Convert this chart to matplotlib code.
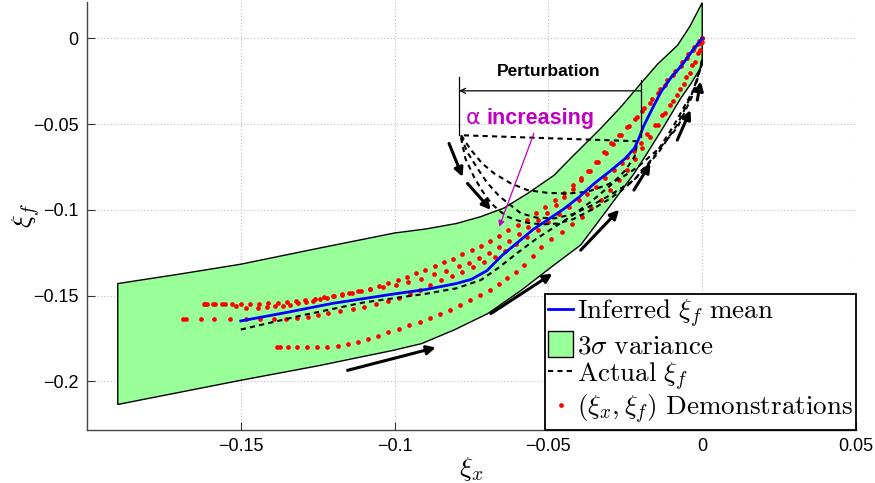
import numpy as np
import matplotlib
matplotlib.use("Agg")
import matplotlib.pyplot as plt
from matplotlib.lines import Line2D
from matplotlib.patches import Patch

# ---------------- data ----------------
band_upper_x = [-0.19, -0.17, -0.15, -0.125, -0.10, -0.09, -0.0800, -0.0720, -0.0645, -0.0568, -0.0482,
                -0.0428, -0.033, -0.0265, -0.020, -0.0146, -0.008, -0.004, 0.0]
band_upper_y = [-0.143, -0.1375, -0.1317, -0.1225, -0.1135, -0.1112, -0.1080, -0.1040, -0.0990, -0.0905, -0.0799,
                -0.0700, -0.0525, -0.0401, -0.0264, -0.0152, -0.004, 0.007, 0.0208]
band_lower_x = [-0.19, -0.15, -0.125, -0.1006, -0.0912, -0.0806, -0.0697, -0.0588, -0.049, -0.0395,
                -0.0309, -0.0222, -0.0179, -0.0125, -0.007, -0.0035, 0.0]
band_lower_y = [-0.2135, -0.1994, -0.191, -0.182, -0.178, -0.170, -0.1605, -0.1469, -0.1333, -0.1205,
                -0.100, -0.079, -0.067, -0.0515, -0.035, -0.026, -0.0156]

mean_x = [-0.15, -0.135, -0.12, -0.10, -0.09, -0.08, -0.075, -0.07, -0.065, -0.06, -0.055, -0.05,
          -0.045, -0.04, -0.035, -0.03, -0.025, -0.022, -0.0205, -0.019, -0.0165, -0.0135, -0.01,
          -0.007, -0.0035, 0.0]
mean_y = [-0.1648, -0.1598, -0.1545, -0.149, -0.1465, -0.143, -0.1405, -0.1355, -0.1265, -0.119,
          -0.1115, -0.1055, -0.0995, -0.0925, -0.0845, -0.0775, -0.0700, -0.0640, -0.0580, -0.0510,
          -0.0420, -0.0315, -0.0225, -0.0165, -0.0080, 0.0]

actual_x = [-0.15, -0.13, -0.11, -0.09, -0.08, -0.072, -0.066, -0.06, -0.054, -0.048, -0.042,
            -0.036, -0.030, -0.025, -0.022, -0.021, -0.0784]
actual_y = [-0.1698, -0.1615, -0.1540, -0.1490, -0.1458, -0.1410, -0.1335, -0.1250, -0.1170,
            -0.1100, -0.1030, -0.0950, -0.0860, -0.0770, -0.0690, -0.0600, -0.0565]

ret1_x = [-0.0784, -0.0752, -0.0715, -0.0676, -0.0622, -0.0568, -0.0503, -0.0438, -0.0373, -0.031,
          -0.026, -0.021, -0.0135, -0.008, -0.0028, -0.0005, 0.0]
ret1_y = [-0.0565, -0.0650, -0.0730, -0.0788, -0.0846, -0.0885, -0.0901, -0.0905, -0.0895, -0.0855,
          -0.0810, -0.0751, -0.0634, -0.0518, -0.0320, -0.0167, -0.0120]
ret2_x = [-0.0784, -0.0765, -0.073, -0.070, -0.066, -0.0625, -0.059, -0.054, -0.048, -0.042, -0.036,
          -0.030, -0.0222, -0.0157, -0.0093, -0.0028, -0.0005, 0.0]
ret2_y = [-0.0570, -0.0660, -0.0760, -0.0840, -0.0920, -0.0970, -0.1020, -0.1045, -0.1050, -0.1025,
          -0.0975, -0.0915, -0.0827, -0.0690, -0.0510, -0.0300, -0.0167, -0.0120]
ret3_x = [-0.0784, -0.0770, -0.0742, -0.0715, -0.0687, -0.0660, -0.0632, -0.0600, -0.0567, -0.0520,
          -0.0470, -0.0420, -0.0360, -0.0300, -0.0250, -0.0200, -0.0140, -0.0080, -0.0030, -0.0005, 0.0]
ret3_y = [-0.0580, -0.0700, -0.0808, -0.0890, -0.0960, -0.1005, -0.1041, -0.1062, -0.1076, -0.1085,
          -0.1080, -0.1055, -0.1000, -0.0935, -0.0870, -0.0790, -0.0660, -0.0500, -0.0310, -0.0167, -0.0120]

demo_T = [(-0.1620, -0.1547), (-0.1610, -0.1547), (-0.1590, -0.1548), (-0.1560, -0.1548), (-0.1530, -0.1548),
          (-0.1500, -0.1548), (-0.1470, -0.1548), (-0.1440, -0.1547), (-0.1410, -0.1545), (-0.1380, -0.1541),
          (-0.1350, -0.1536), (-0.1320, -0.1530), (-0.1290, -0.1525), (-0.1260, -0.1518), (-0.1230, -0.1510),
          (-0.1200, -0.1502), (-0.1170, -0.1493), (-0.1140, -0.1483), (-0.1110, -0.1472), (-0.1080, -0.1459),
          (-0.1050, -0.1445), (-0.1020, -0.1429), (-0.0990, -0.1410), (-0.0960, -0.1390), (-0.0930, -0.1371),
          (-0.0900, -0.1350), (-0.0870, -0.1328), (-0.0840, -0.1306), (-0.0810, -0.1285), (-0.0780, -0.1260),
          (-0.0750, -0.1236), (-0.0720, -0.1208), (-0.0690, -0.1180), (-0.0660, -0.1150), (-0.0630, -0.1120),
          (-0.0600, -0.1090), (-0.0570, -0.1057), (-0.0540, -0.1020), (-0.0510, -0.0982), (-0.0480, -0.0942),
          (-0.0450, -0.0900), (-0.0420, -0.0857), (-0.0395, -0.0817), (-0.0370, -0.0772), (-0.0345, -0.0722),
          (-0.0320, -0.0660), (-0.0295, -0.0610), (-0.0270, -0.0563), (-0.0245, -0.0518), (-0.0220, -0.0472),
          (-0.0195, -0.0425), (-0.0170, -0.0375), (-0.0145, -0.0320), (-0.0120, -0.0270), (-0.0095, -0.0215),
          (-0.0070, -0.0160), (-0.0050, -0.0115), (-0.0030, -0.0070), (-0.0015, -0.0035), (-0.0005, -0.0010),
          (0.0, 0.0)]
demo_S = [(-0.1615, -0.1547), (-0.1585, -0.1549), (-0.1550, -0.1552), (-0.1515, -0.1560), (-0.1482, -0.1572),
          (-0.1443, -0.1570), (-0.1415, -0.1566), (-0.1389, -0.1562), (-0.1364, -0.1558), (-0.1339, -0.1553),
          (-0.1313, -0.1546), (-0.1288, -0.1539), (-0.1265, -0.1530), (-0.1242, -0.1520), (-0.1220, -0.1512),
          (-0.1198, -0.1504), (-0.1172, -0.1495), (-0.1147, -0.1485), (-0.1120, -0.1476), (-0.1079, -0.1462),
          (-0.1039, -0.1450), (-0.0996, -0.1437), (-0.0956, -0.1422), (-0.0915, -0.1402), (-0.0873, -0.1377),
          (-0.0833, -0.1356), (-0.0790, -0.1329), (-0.0758, -0.1310), (-0.0725, -0.1282), (-0.0692, -0.1250),
          (-0.0660, -0.1215), (-0.0628, -0.1180), (-0.0596, -0.1142), (-0.0565, -0.1102), (-0.0535, -0.1060),
          (-0.0505, -0.1017), (-0.0476, -0.0972), (-0.0448, -0.0925), (-0.0420, -0.0877), (-0.0393, -0.0828),
          (-0.0366, -0.0776), (-0.0340, -0.0722), (-0.0314, -0.0668), (-0.0289, -0.0615), (-0.0263, -0.0562),
          (-0.0238, -0.0510), (-0.0213, -0.0458), (-0.0188, -0.0405), (-0.0163, -0.0352), (-0.0138, -0.0298),
          (-0.0113, -0.0244), (-0.0089, -0.0190), (-0.0066, -0.0138), (-0.0045, -0.0090), (-0.0026, -0.0050),
          (-0.0010, -0.0018), (0.0, 0.0)]
demo_L = [(-0.1688, -0.1638), (-0.1677, -0.1638), (-0.1631, -0.1638), (-0.1588, -0.1638), (-0.1534, -0.1638),
          (-0.1483, -0.1638), (-0.1436, -0.1638), (-0.1393, -0.1637), (-0.1354, -0.1634), (-0.1318, -0.1628),
          (-0.1283, -0.1625), (-0.1250, -0.1613), (-0.1216, -0.1601), (-0.1177, -0.1592), (-0.1136, -0.1580),
          (-0.1099, -0.1567), (-0.1061, -0.1551), (-0.1023, -0.1533), (-0.0985, -0.1512), (-0.0949, -0.1492),
          (-0.0917, -0.1469), (-0.0884, -0.1440), (-0.0850, -0.1410), (-0.0815, -0.1385), (-0.0780, -0.1360),
          (-0.0745, -0.1335), (-0.0710, -0.1305), (-0.0675, -0.1275), (-0.0640, -0.1240), (-0.0605, -0.1200),
          (-0.0570, -0.1160), (-0.0535, -0.1115), (-0.0500, -0.1070), (-0.0465, -0.1025), (-0.0432, -0.0985),
          (-0.0400, -0.0942), (-0.0373, -0.0905), (-0.0345, -0.0865), (-0.0315, -0.0815), (-0.0287, -0.0769),
          (-0.0262, -0.0725), (-0.0243, -0.0691), (-0.0222, -0.0655), (-0.0200, -0.0610), (-0.0179, -0.0560),
          (-0.0155, -0.0505), (-0.0130, -0.0448), (-0.0105, -0.0390), (-0.0082, -0.0330), (-0.0060, -0.0265),
          (-0.0040, -0.0200), (-0.0022, -0.0135), (-0.0008, -0.0070), (0.0, -0.0020)]
demo_B = [(-0.1382, -0.1800), (-0.1372, -0.1800), (-0.1345, -0.1800), (-0.1318, -0.1800), (-0.1286, -0.1800),
          (-0.1253, -0.1799), (-0.1220, -0.1797), (-0.1185, -0.1794), (-0.1152, -0.1785), (-0.1120, -0.1770),
          (-0.1088, -0.1753), (-0.1055, -0.1735), (-0.1021, -0.1715), (-0.0987, -0.1694), (-0.0953, -0.1673),
          (-0.0919, -0.1652), (-0.0885, -0.1632), (-0.0852, -0.1608), (-0.0820, -0.1583), (-0.0787, -0.1557),
          (-0.0755, -0.1528), (-0.0723, -0.1497), (-0.0691, -0.1465), (-0.0662, -0.1432), (-0.0633, -0.1397),
          (-0.0604, -0.1362), (-0.0578, -0.1322), (-0.0551, -0.1270), (-0.0525, -0.1216), (-0.0490, -0.1170),
          (-0.0455, -0.1128), (-0.0422, -0.1085), (-0.0390, -0.1040), (-0.0360, -0.0990), (-0.0330, -0.0940),
          (-0.0300, -0.0885), (-0.0272, -0.0828), (-0.0245, -0.0768), (-0.0220, -0.0705), (-0.0195, -0.0640),
          (-0.0170, -0.0575), (-0.0145, -0.0505), (-0.0120, -0.0435), (-0.0096, -0.0365), (-0.0073, -0.0295),
          (-0.0052, -0.0225), (-0.0032, -0.0155), (-0.0015, -0.0085), (-0.0004, -0.0030), (0.0, 0.0)]

# arrows (tail -> head)
arrows = [((-0.1153, -0.1936), (-0.0866, -0.1803)),
          ((-0.0687, -0.1605), (-0.0487, -0.1372)),
          ((-0.0395, -0.1235), (-0.0270, -0.1000)),
          ((-0.0222, -0.0885), (-0.0168, -0.0729)),
          ((-0.0081, -0.0593), (-0.0038, -0.0418)),
          ((-0.0016, -0.0360), (-0.0005, -0.0251)),
          ((-0.0823, -0.0613), (-0.0779, -0.0808)),
          ((-0.0763, -0.0846), (-0.0687, -0.1000))]

xticks = [-0.15, -0.1, -0.05, 0, 0.05]
xtick_labels = ['\u22120.15', '\u22120.1', '\u22120.05', '0', '0.05']
yticks = [0, -0.05, -0.1, -0.15, -0.2]
ytick_labels = ['0', '\u22120.05', '\u22120.1', '\u22120.15', '\u22120.2']

legend_labels = [r'$\mathrm{Inferred}\ \xi_f\ \mathrm{mean}$', r'$3\sigma\ \mathrm{variance}$',
                 r'$\mathrm{Actual}\ \xi_f$', r'$(\xi_x, \xi_f)\ \mathrm{Demonstrations}$']

# ---------------- plotting ----------------
plt.rcParams['mathtext.fontset'] = 'cm'
plt.rcParams['font.family'] = ['Liberation Sans', 'DejaVu Sans']

fig = plt.figure(figsize=(8.75, 4.83), dpi=100)
ax = fig.add_axes([87/875, 1 - 429.5/483, (856 - 87)/875, (429.5 - 2)/483])

green = '#99FF99'
poly_x = list(band_upper_x) + list(band_lower_x[::-1])
poly_y = list(band_upper_y) + list(band_lower_y[::-1])
ax.fill(poly_x, poly_y, facecolor=green, edgecolor='black', linewidth=1.0, zorder=2)

for d in (demo_T, demo_S, demo_L, demo_B):
    arr = np.array(d)
    ax.plot(arr[:, 0], arr[:, 1], 'o', color='red', ms=3.4, mec='none', zorder=4)

dash = dict(color='black', lw=1.5, ls=(0, (2.5, 2.0)), zorder=5)
ax.plot(actual_x, actual_y, **dash)
for rx, ry in ((ret1_x, ret1_y), (ret2_x, ret2_y), (ret3_x, ret3_y)):
    ax.plot(rx, ry, **dash)

ax.plot(mean_x, mean_y, color='#0000FF', lw=2.0, zorder=6)

for (t, h) in arrows:
    ax.annotate('', xy=h, xytext=t,
                arrowprops=dict(arrowstyle='-|>', color='black', lw=2.2,
                                mutation_scale=13, shrinkA=0, shrinkB=0), zorder=7)

# perturbation annotation
ax.plot([-0.079, -0.079], [-0.0225, -0.0565], color='black', lw=0.9, zorder=7)
ax.plot([-0.0198, -0.0198], [-0.024, -0.0575], color='black', lw=0.9, zorder=7)
ax.annotate('', xy=(-0.079, -0.0306), xytext=(-0.0198, -0.0306),
            arrowprops=dict(arrowstyle='->', color='black', lw=0.9, shrinkA=0, shrinkB=0,
                            mutation_scale=9), zorder=7)
ax.text(-0.0498, -0.0195, 'Perturbation', ha='center', va='center',
        fontsize=12.5, fontweight='bold', color='black', zorder=8)

mag = '#BF00BF'
ax.text(-0.0722, -0.0465, '\u03b1', ha='right', va='center',
        fontsize=16, color=mag, family='DejaVu Sans', zorder=8)
ax.text(-0.0700, -0.0465, 'increasing', ha='left', va='center',
        fontsize=15.5, fontweight='bold', color=mag, zorder=8)
ax.annotate('', xy=(-0.066, -0.1099), xytext=(-0.0547, -0.0554),
            arrowprops=dict(arrowstyle='-|>', color=mag, lw=0.9, shrinkA=0, shrinkB=0,
                            mutation_scale=9), zorder=8)

ax.set_xlim(-0.2, 0.05)
ax.set_ylim(-0.2281, 0.0212)
ax.set_xticks(xticks)
ax.set_xticklabels(xtick_labels)
ax.set_yticks(yticks)
ax.set_yticklabels(ytick_labels)
ax.tick_params(direction='in', length=6, width=0.8, labelsize=13, colors='#333333',
               labelcolor='black', pad=6)
ax.grid(True, color='#BBBBBB', ls=(0, (1, 2)), lw=0.8)
ax.set_axisbelow(True)
for s in ('top', 'right'):
    ax.spines[s].set_visible(False)
for s in ('left', 'bottom'):
    ax.spines[s].set_color('#444444')
    ax.spines[s].set_linewidth(1.0)

ax.set_xlabel(r'$\xi_x$', fontsize=20, labelpad=0)
ax.set_ylabel(r'$\xi_f$', fontsize=20, labelpad=-7)

handles = [Line2D([], [], color='#0000FF', lw=2.0),
           Patch(facecolor=green, edgecolor='black', lw=1.0),
           Line2D([], [], color='black', lw=1.5, ls=(0, (2.5, 2.0))),
           Line2D([], [], marker='o', ls='none', color='red', ms=3.4, mec='none')]
leg = ax.legend(handles, legend_labels, loc='lower right', bbox_to_anchor=(1.0, 0.0),
                borderaxespad=0.0, fancybox=False, framealpha=1, edgecolor='black',
                handlelength=0.9, handleheight=1.1, handletextpad=0.15, borderpad=0.12,
                labelspacing=0.02, fontsize=19.5)
leg.get_frame().set_linewidth(1.3)
leg.set_zorder(20)

fig.savefig('out.png', dpi=100)
